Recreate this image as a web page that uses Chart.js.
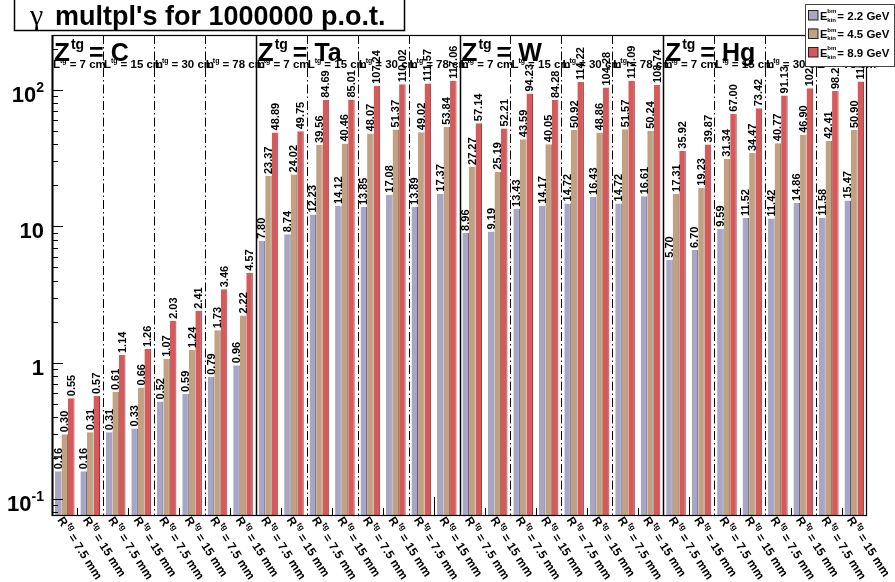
<!DOCTYPE html>
<html><head><meta charset="utf-8">
<script src="https://cdn.jsdelivr.net/npm/chart.js@4/dist/chart.umd.min.js"></script>
<style>html,body{margin:0;padding:0;background:#fff}canvas{display:block}</style>
</head><body>
<canvas id="c" width="895" height="582"></canvas>
<script>
const titleSymbol = 'γ';
const titleText = "multpl's for 1000000 p.o.t.";
const targets = ['C', 'Ta', 'W', 'Hg'];
const lengths = ['7 cm', '15 cm', '30 cm', '78 cm'];
const radii = ['7.5 mm', '15 mm'];
const energies = ['2.2 GeV', '4.5 GeV', '8.9 GeV'];
const yTickValues = [0.1, 1, 10, 100];
const yTickLabels = [['10', '-1'], ['1', ''], ['10', ''], ['10', '2']];

const mult22 = [0.16, 0.16, 0.31, 0.33, 0.52, 0.59, 0.79, 0.96,
  7.80, 8.74, 12.23, 14.12, 13.85, 17.08, 13.89, 17.37,
  8.96, 9.19, 13.43, 14.17, 14.72, 16.43, 14.72, 16.61,
  5.70, 6.70, 9.59, 11.52, 11.42, 14.86, 11.58, 15.47];
const mult45 = [0.30, 0.31, 0.61, 0.66, 1.07, 1.24, 1.73, 2.22,
  23.37, 24.02, 39.56, 40.46, 48.07, 51.37, 49.02, 53.84,
  27.27, 25.19, 43.59, 40.05, 50.92, 48.86, 51.57, 50.24,
  17.31, 19.23, 31.34, 34.47, 40.77, 46.90, 42.41, 50.90];
const mult89 = [0.55, 0.57, 1.14, 1.26, 2.03, 2.41, 3.46, 4.57,
  48.89, 49.75, 84.69, 85.01, 107.24, 110.02, 111.57, 117.06,
  57.14, 52.21, 94.23, 84.28, 114.22, 104.28, 117.09, 108.74,
  35.92, 39.87, 67.00, 73.42, 91.13, 102.87, 98.26, 115.36];

const categories = [];
targets.forEach(() => lengths.forEach(() => radii.forEach(r => categories.push(r))));

const F = '"Liberation Sans", Arial, Helvetica, sans-serif';
const fills = ['#a9a6c4', '#c1a182', '#d45a5c'];
const edges = ['#5c5890', '#8c7458', '#a03436'];

function rich(ctx, parts, x, y) {
  let cx = x;
  parts.forEach(p => {
    ctx.font = 'bold ' + p.s + 'px ' + F;
    ctx.fillText(p.t, cx, y + (p.dy || 0));
    cx += ctx.measureText(p.t).width + (p.gap || 0);
  });
  return cx;
}
function richWidth(ctx, parts) {
  let w = 0;
  parts.forEach(p => { ctx.font = 'bold ' + p.s + 'px ' + F; w += ctx.measureText(p.t).width + (p.gap || 0); });
  return w;
}

const deco = {
  id: 'deco',
  afterDraw(chart) {
    const { ctx, chartArea: a, scales: { x, y } } = chart;
    const n = categories.length;
    const bw = x.getPixelForValue(1) - x.getPixelForValue(0);
    const b0 = x.getPixelForValue(0) - bw / 2;
    const bnd = k => b0 + k * bw;
    ctx.save();
    ctx.fillStyle = '#000';
    ctx.strokeStyle = '#000';

    // dividers and x ticks
    for (let k = 1; k < n; k++) {
      const px = Math.round(bnd(k)) + 0.5;
      ctx.beginPath();
      if (k % 8 === 0) {
        ctx.lineWidth = 1.5; ctx.setLineDash([]);
        ctx.moveTo(px, a.top); ctx.lineTo(px, a.bottom);
      } else if (k % 2 === 0) {
        ctx.lineWidth = 1; ctx.setLineDash([9, 3, 1.5, 3]);
        ctx.moveTo(px, a.top); ctx.lineTo(px, a.bottom);
      } else {
        ctx.lineWidth = 1; ctx.setLineDash([]);
        const len = (k === 15 || k === 25) ? 18 : 7;
        ctx.moveTo(px, a.bottom); ctx.lineTo(px, a.bottom - len);
      }
      ctx.stroke();
    }
    ctx.setLineDash([]);

    // frame
    ctx.lineWidth = 1.2;
    ctx.strokeRect(a.left + 0.5, a.top + 0.5, a.right - a.left - 1, a.bottom - a.top);
    ctx.lineWidth = 2;
    ctx.beginPath(); ctx.moveTo(a.left + 0.5, a.top); ctx.lineTo(a.left + 0.5, a.bottom + 1); ctx.stroke();

    // y ticks
    ctx.lineWidth = 1;
    for (let d = -2; d <= 3; d++) {
      for (let m = 1; m <= 9; m++) {
        const v = m * Math.pow(10, d);
        if (v < y.min || v > y.max) continue;
        const py = Math.round(y.getPixelForValue(v)) + 0.5;
        const len = m === 1 ? 11 : 6;
        ctx.beginPath(); ctx.moveTo(a.left, py); ctx.lineTo(a.left + len, py); ctx.stroke();
      }
    }
    // y labels
    ctx.textBaseline = 'alphabetic'; ctx.textAlign = 'left';
    yTickValues.forEach((v, i) => {
      const py = y.getPixelForValue(v);
      const parts = [{ t: yTickLabels[i][0], s: 22 }];
      if (yTickLabels[i][1]) parts.push({ t: yTickLabels[i][1], s: 14, dy: -10 });
      const w = richWidth(ctx, parts);
      rich(ctx, parts, 44 - w, py + 12);
    });

    // value labels on bars
    chart.data.datasets.forEach((ds, di) => {
      const meta = chart.getDatasetMeta(di);
      meta.data.forEach((bar, i) => {
        ctx.save();
        ctx.translate(bar.x + 0.5, bar.y - 2);
        ctx.rotate(-Math.PI / 2);
        ctx.font = 'bold 11px ' + F;
        ctx.textAlign = 'left'; ctx.textBaseline = 'middle';
        ctx.fillText(ds.data[i].toFixed(2), 0, 0);
        ctx.restore();
      });
    });

    // x labels (rotated)
    const ang = 57 * Math.PI / 180;
    categories.forEach((lab, i) => {
      const cx = x.getPixelForValue(i);
      ctx.save();
      ctx.translate(cx, a.bottom);
      ctx.rotate(ang);
      ctx.textAlign = 'left'; ctx.textBaseline = 'top';
      rich(ctx, [{ t: 'R', s: 12, gap: 1 }, { t: 'tg', s: 8, dy: -3, gap: 3 }, { t: '= ' + lab, s: 12 }], 0, 0);
      ctx.restore();
    });

    // target and length labels
    ctx.textAlign = 'left'; ctx.textBaseline = 'alphabetic';
    targets.forEach((t, ti) => {
      const gx = bnd(ti * 8);
      rich(ctx, [{ t: 'Z', s: 26, gap: 1 }, { t: 'tg', s: 14, dy: -12, gap: 5 }, { t: '= ' + t, s: 25 }], gx + 2, 61);
      lengths.forEach((l, li) => {
        const lx = bnd(ti * 8 + li * 2);
        rich(ctx, [{ t: 'L', s: 11.5, gap: 0 }, { t: 'tg', s: 7, dy: -5, gap: 3 }, { t: '= ' + l, s: 11.5 }], lx + 1, 68);
      });
    });

    // title box
    ctx.fillStyle = '#fff';
    ctx.fillRect(14, -2, 391, 33);
    ctx.lineWidth = 1.5; ctx.strokeStyle = '#000';
    ctx.strokeRect(14.5, -2, 390, 32.5);
    ctx.fillStyle = '#000';
    ctx.font = '30px "Liberation Serif", "DejaVu Serif", serif';
    ctx.fillText(titleSymbol, 30, 25);
    ctx.font = 'bold 27px ' + F;
    ctx.fillText(titleText, 55, 25);

    // legend
    ctx.fillStyle = '#fff';
    ctx.fillRect(805, 4, 90, 63);
    ctx.lineWidth = 1; ctx.strokeStyle = '#444';
    ctx.strokeRect(805.5, 4.5, 89, 62);
    chart.data.datasets.forEach((ds, di) => {
      const ly = 10 + di * 18.5;
      ctx.fillStyle = ds.backgroundColor;
      ctx.fillRect(808, ly, 10, 10);
      ctx.strokeStyle = '#222';
      ctx.strokeRect(808.5, ly + 0.5, 9.5, 9.5);
      ctx.fillStyle = '#000';
      const ex = rich(ctx, [{ t: 'E', s: 11 }], 820, ly + 9.5);
      ctx.font = 'bold 6px ' + F;
      ctx.fillText('bm', ex, ly + 3);
      ctx.fillText('kin', ex, ly + 11.5);
      rich(ctx, [{ t: '= ' + energies[di], s: 11.5 }], ex + 10, ly + 9.5);
    });
    ctx.restore();
  }
};

new Chart(document.getElementById('c'), {
  type: 'bar',
  data: {
    labels: categories,
    datasets: [mult22, mult45, mult89].map((d, i) => ({
      label: energies[i],
      data: d,
      backgroundColor: fills[i],
      borderColor: edges[i],
      borderWidth: { left: 0, right: 1, top: 0, bottom: 0 },
      borderSkipped: false,
      categoryPercentage: 0.77,
      barPercentage: 1.0
    }))
  },
  options: {
    responsive: false,
    animation: false,
    layout: { padding: { left: 52, right: 28, top: 35, bottom: 67 } },
    plugins: { legend: { display: false }, tooltip: { enabled: false }, title: { display: false } },
    scales: {
      x: { display: false },
      y: { type: 'logarithmic', display: false, min: 0.0766, max: 253 }
    }
  },
  plugins: [deco]
});
</script>
</body></html>
